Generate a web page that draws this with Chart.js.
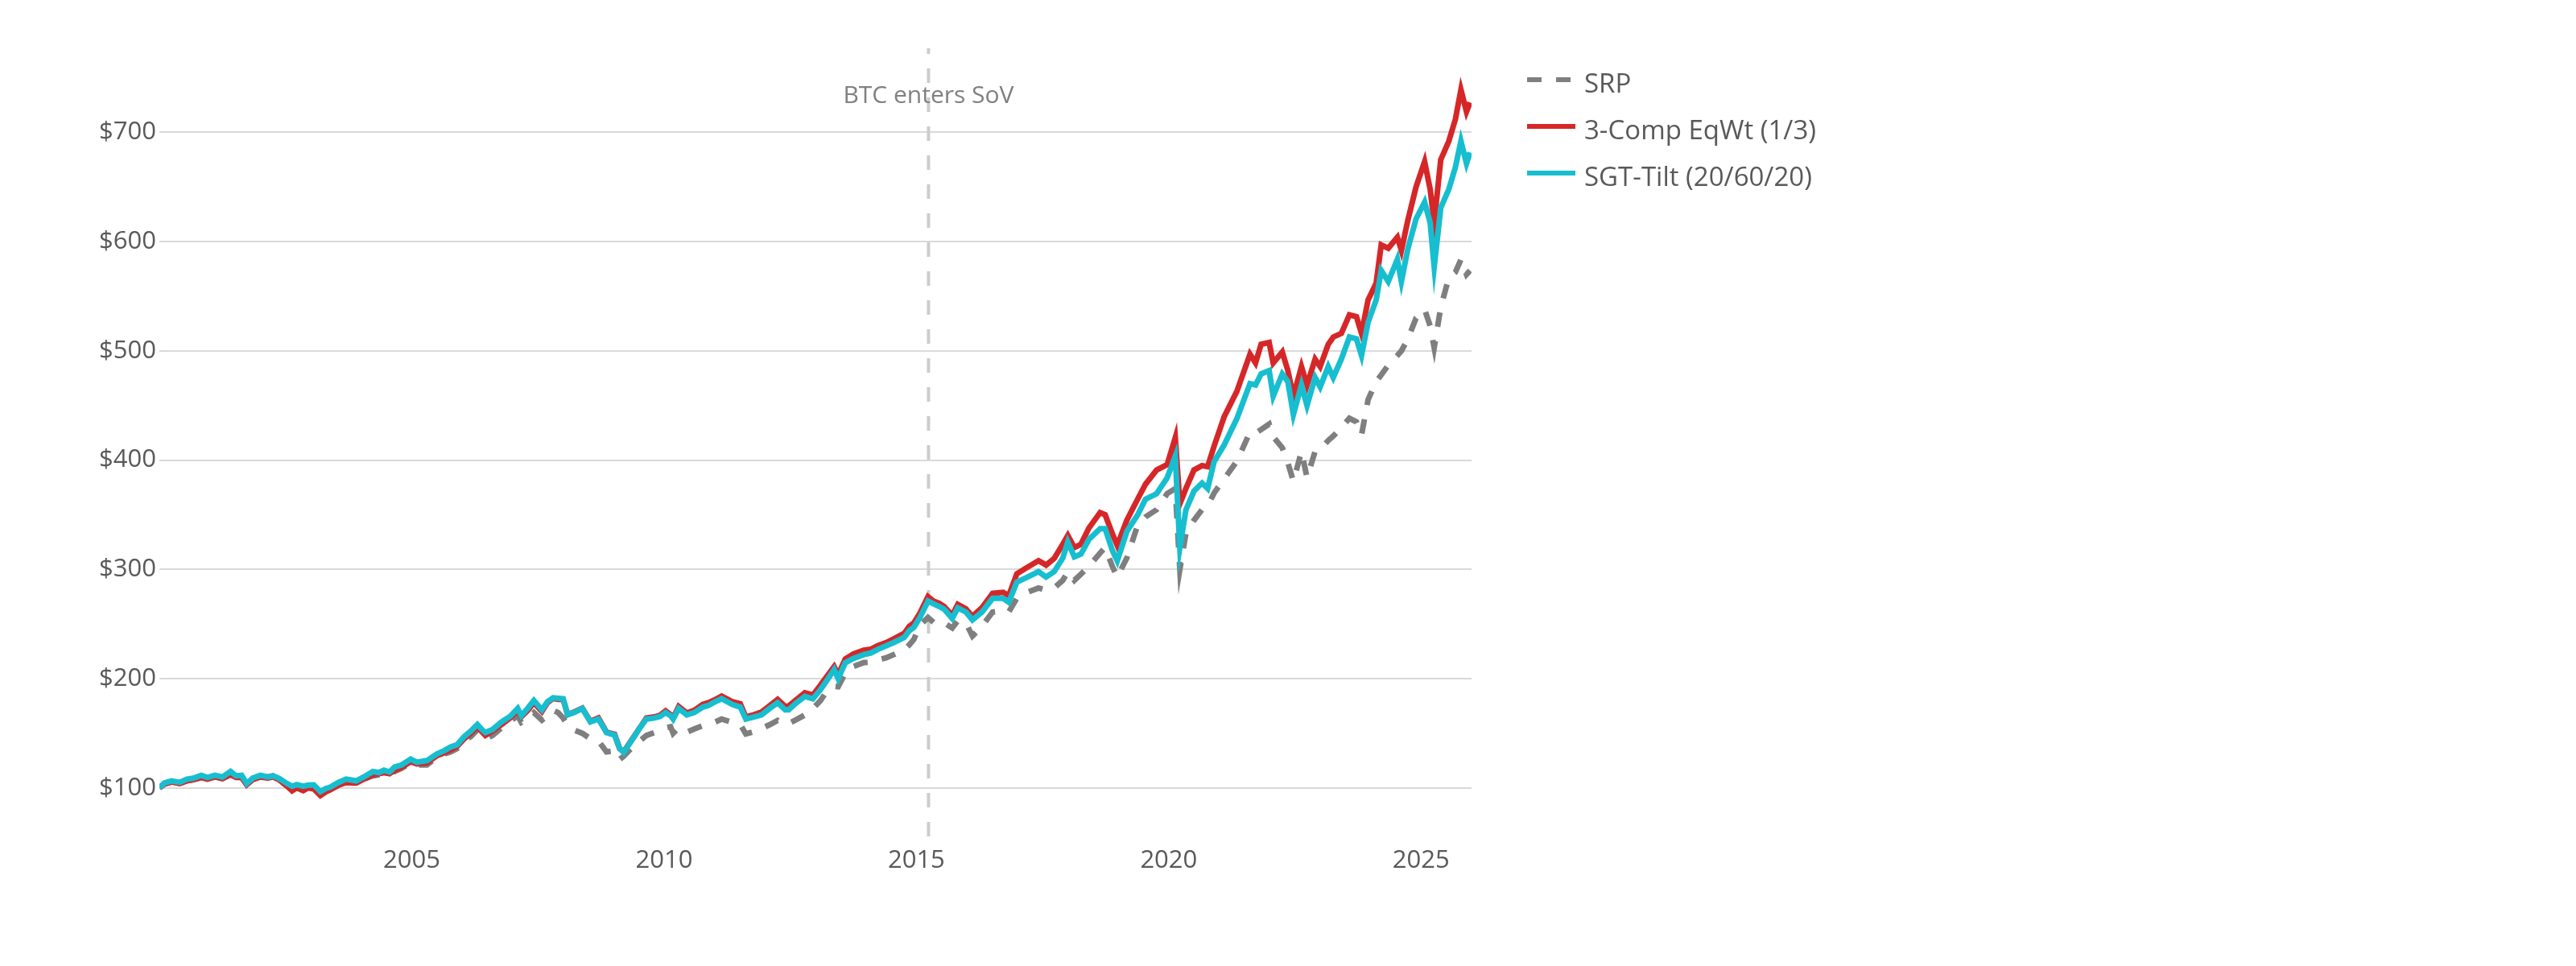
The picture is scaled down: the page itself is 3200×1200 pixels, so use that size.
<!DOCTYPE html>
<html>
<head>
<meta charset="utf-8">
<title>SRP vs 3-Comp EqWt vs SGT-Tilt</title>
<script src="https://cdn.jsdelivr.net/npm/chart.js@4.4.1/dist/chart.umd.min.js"></script>
<style>
  html, body { margin: 0; padding: 0; background: #fff; }
  #wrap { position: relative; width: 3200px; height: 1200px; }
</style>
</head>
<body>
<div id="wrap"><canvas id="chart" width="3200" height="1200"></canvas></div>
<script>
// Growth of $100 (dates as decimal years)
const dates = [
  2000.00, 2000.10, 2000.24, 2000.40, 2000.55, 2000.67, 2000.83, 2000.95,
  2001.10, 2001.25, 2001.41, 2001.52, 2001.63, 2001.73, 2001.85,
  2002.00, 2002.15, 2002.25, 2002.37, 2002.53, 2002.63, 2002.72, 2002.85, 2002.95,
  2003.06, 2003.19, 2003.30, 2003.38, 2003.55, 2003.70, 2003.90,
  2004.05, 2004.23, 2004.35, 2004.45, 2004.56, 2004.66, 2004.80, 2004.98,
  2005.10, 2005.30, 2005.50, 2005.64, 2005.77, 2005.90,
  2006.04, 2006.17, 2006.30, 2006.40, 2006.46, 2006.60, 2006.78, 2006.95,
  2007.10, 2007.17, 2007.30, 2007.42, 2007.58, 2007.69, 2007.80, 2007.90,
  2008.00, 2008.09, 2008.22, 2008.38, 2008.54, 2008.70, 2008.86,
  2009.02, 2009.12, 2009.20, 2009.39, 2009.52, 2009.65, 2009.81, 2009.92,
  2010.03, 2010.13, 2010.18, 2010.29, 2010.45, 2010.60, 2010.77, 2010.88,
  2011.00, 2011.14, 2011.35, 2011.51, 2011.62, 2011.75, 2011.93,
  2012.10, 2012.25, 2012.40, 2012.47, 2012.60, 2012.79, 2012.95,
  2013.10, 2013.21, 2013.37, 2013.45, 2013.59, 2013.75, 2013.96,
  2014.10, 2014.23, 2014.40, 2014.55, 2014.76, 2014.86, 2014.95,
  2015.07, 2015.23, 2015.34, 2015.45, 2015.55, 2015.71, 2015.82, 2015.98,
  2016.11, 2016.30, 2016.51, 2016.72, 2016.83, 2016.99,
  2017.20, 2017.42, 2017.57, 2017.73, 2017.90,
  2018.00, 2018.13, 2018.26, 2018.42, 2018.64, 2018.74, 2018.88, 2018.98,
  2019.17, 2019.38, 2019.54, 2019.76, 2019.97,
  2020.13, 2020.22, 2020.34, 2020.50, 2020.66, 2020.77, 2020.90,
  2021.10, 2021.35, 2021.61, 2021.72, 2021.83, 2021.99,
  2022.07, 2022.25, 2022.36, 2022.47, 2022.63, 2022.74, 2022.90,
  2023.00, 2023.16, 2023.26, 2023.42, 2023.58, 2023.72, 2023.82, 2023.95,
  2024.11, 2024.21, 2024.35, 2024.53, 2024.61, 2024.74, 2024.90,
  2025.07, 2025.18, 2025.26, 2025.39, 2025.55, 2025.68, 2025.79, 2025.90, 2025.97
];

const srp = [
  100, 103.5, 105.5, 104, 106.5, 107.5, 109.5, 108.5,
  110.5, 109, 113, 110, 110, 103, 108,
  110.5, 110, 111, 108, 102, 97.5, 100.5, 98, 100.5,
  99.5, 94, 97, 99, 103, 105, 104.5,
  108, 111, 112, 113, 112, 115, 118, 123,
  121, 121, 128, 131, 133, 136,
  143, 147, 153, 148, 144.5, 148, 155, 161,
  166, 160, 164, 169, 162, 166, 171, 169,
  164, 157, 153, 150, 145, 143, 133,
  134, 126, 129, 138, 143, 148, 150.6, 153,
  155, 156, 150, 155, 151, 154, 157, 158,
  160, 163, 160, 158, 149.4, 151, 154.3,
  158, 161.7, 158, 159, 162, 166.8, 172.7,
  180, 187.5, 193, 192.6, 205, 211, 214.7,
  215, 217, 219, 222, 226.8, 231, 236,
  248.8, 256, 251.5, 253, 251, 246.4, 253, 251,
  239, 248, 261, 262, 261, 273.6,
  279, 283, 281, 283, 290,
  298, 290, 295.7, 303, 315, 320, 303, 293,
  310.5, 340, 348, 354.7, 369.5,
  374, 300, 333, 345, 354.7, 358, 370,
  383, 399, 425.7, 424.8, 428, 433,
  421.4, 411.3, 397.7, 380.8, 407.9, 384.2, 407.9,
  410, 418, 422, 430, 438.3, 435, 423, 455.3,
  472, 478, 487, 495.8, 500, 511, 530,
  538, 523, 503, 540, 567, 572, 583.7, 570, 573.6
];

const eqWt = [
  100, 103.5, 105.5, 104, 106.5, 107.5, 109.5, 108,
  110, 108.5, 112, 109.5, 109.5, 103, 107.5,
  110, 109, 110, 107.5, 101.5, 97.5, 100, 97.5, 100,
  99, 93, 96.5, 98, 102.5, 105, 104.5,
  108, 112, 113, 114, 113, 116, 119, 124,
  122, 123, 129.5, 132, 135, 138,
  145, 150, 156, 151, 148, 152, 158, 164,
  171, 165, 171, 178, 170, 178, 182, 181,
  181, 167, 169.5, 173, 161, 164, 151,
  149, 136, 133, 146, 155, 164, 165, 166.5,
  170.5, 167, 164, 174.5, 168.5, 171, 176.5, 178,
  180.5, 184, 179, 177, 165, 166.5, 169.5,
  175.5, 181, 174.5, 175, 180, 187, 185,
  194, 201, 211, 203.5, 218, 222.5, 226,
  227, 230, 233, 236.5, 241.5, 248, 251,
  260, 275, 271, 269, 266, 258, 268, 264,
  257, 265, 278, 279, 276, 296,
  302, 308, 304, 310, 323,
  331, 320, 323, 338, 352, 350, 333, 322,
  345, 364, 378, 391, 396,
  420.6, 360, 374, 391, 395, 394, 413,
  440, 463, 497, 489, 506, 507.7,
  489, 499, 482, 458.5, 485.6, 468.8, 492.4,
  485.6, 506, 512.7, 516, 533, 531.3, 516, 546.6,
  562, 597, 594, 604, 592, 620, 650,
  673.3, 648, 617.5, 675, 692, 712, 739, 719, 727.4
];

const sgtTilt = [
  100, 104.5, 106.4, 105, 108, 108.8, 111.5, 109.5,
  111.5, 110, 115, 111, 111.5, 104, 109,
  111.5, 110, 111, 108.8, 104, 101.5, 103, 101.5, 102.5,
  102.7, 96.6, 99.5, 100.5, 105, 108, 106.4,
  110, 115, 114, 116.2, 114.5, 119, 121, 126.3,
  123.5, 125, 131, 134, 137.4, 139.5,
  147, 152, 158, 153, 150.7, 153.5, 160.4, 165.5,
  172.7, 166, 173, 180, 171.5, 178.9, 182.5, 182,
  181.6, 167, 169, 172.7, 160.4, 163, 150.6,
  148.4, 136, 132.5, 145.7, 155, 163, 164, 165.4,
  169, 166, 163, 172.7, 166.8, 169, 174, 175.5,
  178.5, 181.6, 176.4, 174, 163, 164.5, 166.8,
  173, 177.9, 171.5, 171.5, 177, 183.8, 181.6,
  190, 197.3, 208.3, 200, 214.5, 218.5, 222,
  223.5, 226.7, 230, 233, 237.8, 244, 247,
  256, 271, 268.5, 266, 263.6, 255, 264.8, 261,
  253.8, 261, 273.5, 273.5, 270, 288.4,
  293, 298, 293, 298, 310.3,
  325, 311.5, 314, 327.5, 337.3, 337.3, 317.7, 307.8,
  334.8, 349.6, 364.3, 369.3, 384,
  403.6, 320, 354.5, 371.7, 379, 374, 398.7,
  414, 438, 470, 468.8, 478.9, 482,
  458.6, 478.9, 472, 441.8, 468.8, 450, 475.6,
  467, 485.6, 475.6, 492.4, 512.7, 511, 495.8, 526.2,
  546.6, 573.6, 563.5, 583.8, 563.5, 593.8, 620.8,
  636.1, 617.5, 577, 631, 648, 668.2, 692, 671.6, 681.7
];

const seriesNames = ['SRP', '3-Comp EqWt (1/3)', 'SGT-Tilt (20/60/20)'];
const xTicks = [2005, 2010, 2015, 2020, 2025];
const yTicks = [100, 200, 300, 400, 500, 600, 700];
const sovDate = 2015.24;
const sovLabel = 'BTC enters SoV';

const toPoints = (vals) => vals.map((v, i) => ({ x: dates[i], y: v }));

Chart.defaults.font.family = "'Open Sans', sans-serif";

// dashed marker line + its caption
const sovMarker = {
  id: 'sovMarker',
  beforeDatasetsDraw(chart) {
    const { ctx, chartArea, scales } = chart;
    const x = scales.x.getPixelForValue(sovDate);
    ctx.save();
    ctx.strokeStyle = '#cccccc';
    ctx.lineWidth = 4;
    ctx.setLineDash([18, 18]);
    ctx.beginPath();
    ctx.moveTo(x, chartArea.bottom);
    ctx.lineTo(x, chartArea.top);
    ctx.stroke();
    ctx.restore();
  },
  afterDraw(chart) {
    const { ctx, scales } = chart;
    const x = scales.x.getPixelForValue(sovDate);
    ctx.save();
    ctx.font = "30px 'Open Sans'";
    ctx.fillStyle = '#808080';
    ctx.textAlign = 'center';
    ctx.textBaseline = 'alphabetic';
    ctx.fillText(sovLabel, x, 128);
    ctx.restore();
  }
};

// legend to the right of the plot
const sideLegend = {
  id: 'sideLegend',
  afterDraw(chart) {
    const { ctx } = chart;
    ctx.save();
    chart.data.datasets.forEach((ds, i) => {
      const y = 99 + i * 58;
      ctx.strokeStyle = ds.borderColor;
      ctx.lineWidth = 6;
      ctx.setLineDash(ds.borderDash || []);
      ctx.beginPath();
      ctx.moveTo(1897, y);
      ctx.lineTo(1957, y);
      ctx.stroke();
      ctx.setLineDash([]);
      ctx.font = "33px 'Open Sans'";
      ctx.fillStyle = '#595959';
      ctx.textBaseline = 'alphabetic';
      ctx.fillText(ds.label, 1968, y + 16);
    });
    ctx.restore();
  }
};

new Chart(document.getElementById('chart'), {
  type: 'line',
  data: {
    datasets: [
      {
        label: seriesNames[0],
        data: toPoints(srp),
        borderColor: '#7f7f7f',
        borderWidth: 7,
        borderDash: [18, 18],
        order: 2,
      },
      {
        label: seriesNames[1],
        data: toPoints(eqWt),
        borderColor: '#d62728',
        borderWidth: 7,
        order: 1,
      },
      {
        label: seriesNames[2],
        data: toPoints(sgtTilt),
        borderColor: '#17becf',
        borderWidth: 7,
        order: 0,
      },
    ],
  },
  options: {
    responsive: false,
    animation: false,
    devicePixelRatio: 1,
    elements: {
      point: { radius: 0 },
      line: { tension: 0, fill: false },
    },
    layout: {
      padding: { top: 60, right: 1372, bottom: 91, left: 0 },
    },
    plugins: {
      legend: { display: false },
      tooltip: { enabled: false },
    },
    scales: {
      x: {
        type: 'linear',
        min: 2000,
        max: 2026,
        grid: { display: false, drawTicks: false },
        border: { display: false },
        ticks: {
          autoSkip: false,
          maxRotation: 0,
          padding: 12,
          color: '#595959',
          font: { size: 31 },
          callback: (v) => String(v),
        },
        afterBuildTicks: (axis) => {
          axis.ticks = xTicks.map((v) => ({ value: v }));
        },
        afterFit: (axis) => {
          axis.height = 70;
        },
      },
      y: {
        min: 55.6,
        max: 777,
        grid: { color: '#d9d9d9', lineWidth: 2, drawTicks: false },
        border: { display: false },
        ticks: {
          padding: 4,
          color: '#595959',
          font: { size: 31 },
          callback: (v) => '$' + v,
        },
        afterBuildTicks: (axis) => {
          axis.ticks = yTicks.map((v) => ({ value: v }));
        },
        afterFit: (axis) => {
          axis.width = 198;
        },
      },
    },
  },
  plugins: [sovMarker, sideLegend],
});
</script>
</body>
</html>
